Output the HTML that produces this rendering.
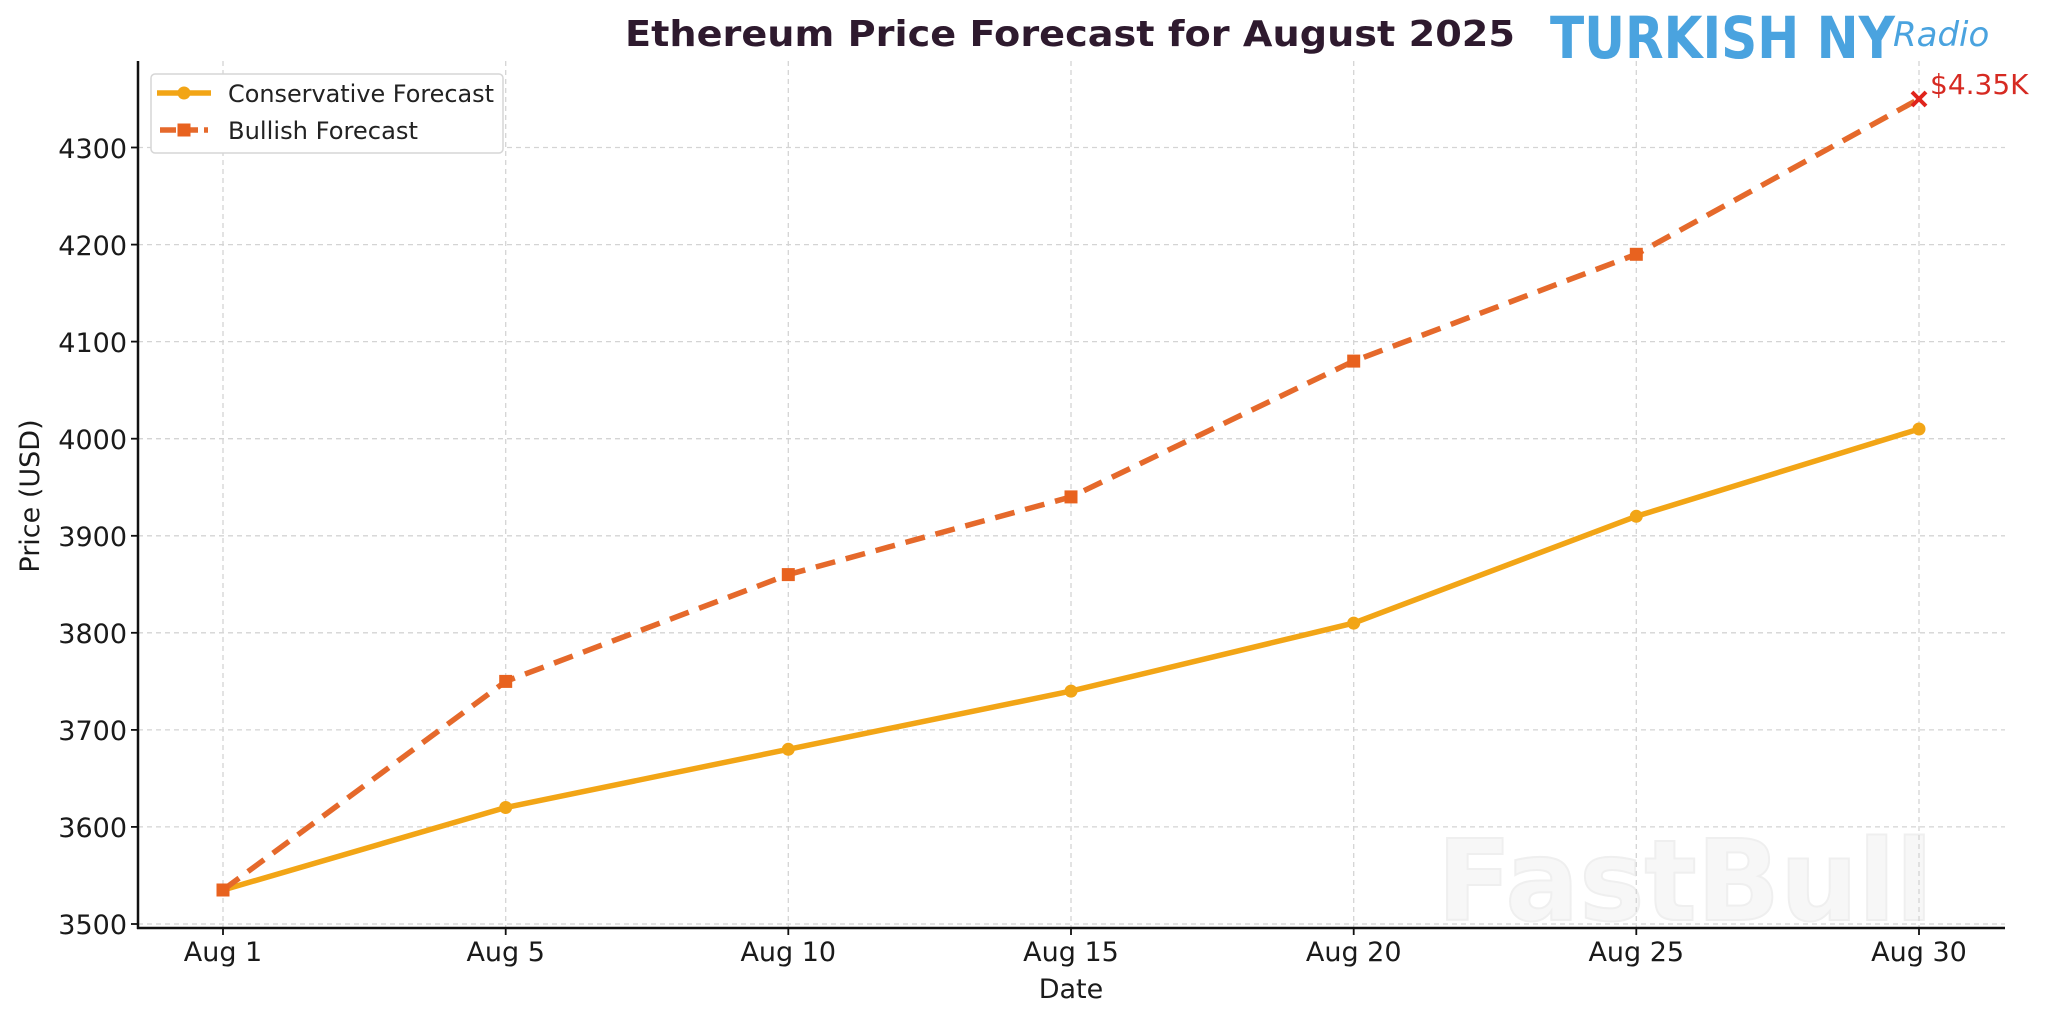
<!DOCTYPE html>
<html><head><meta charset="utf-8"><style>
html,body{margin:0;padding:0;background:#fff;}
svg{display:block;}
text{font-family:"DejaVu Sans","Liberation Sans",sans-serif;}
</style></head><body>
<svg width="2048" height="1021" viewBox="0 0 2048 1021" xmlns="http://www.w3.org/2000/svg">
<rect width="2048" height="1021" fill="#fff"/>
<!-- watermark -->
<text x="1437" y="920" font-size="112" font-weight="bold" fill="#f7f7f7" stroke="#efefef" stroke-width="2" textLength="496" lengthAdjust="spacingAndGlyphs">FastBull</text>
<!-- grid -->
<g stroke="#d4d4d4" stroke-width="1.3" stroke-dasharray="5,4">
<line x1="138" x2="2005" y1="924" y2="924"/>
<line x1="138" x2="2005" y1="826.9" y2="826.9"/>
<line x1="138" x2="2005" y1="729.9" y2="729.9"/>
<line x1="138" x2="2005" y1="632.8" y2="632.8"/>
<line x1="138" x2="2005" y1="535.8" y2="535.8"/>
<line x1="138" x2="2005" y1="438.7" y2="438.7"/>
<line x1="138" x2="2005" y1="341.6" y2="341.6"/>
<line x1="138" x2="2005" y1="244.6" y2="244.6"/>
<line x1="138" x2="2005" y1="147.5" y2="147.5"/>
<line y1="61" y2="928" x1="223" x2="223"/>
<line y1="61" y2="928" x1="505.7" x2="505.7"/>
<line y1="61" y2="928" x1="788.3" x2="788.3"/>
<line y1="61" y2="928" x1="1071" x2="1071"/>
<line y1="61" y2="928" x1="1353.7" x2="1353.7"/>
<line y1="61" y2="928" x1="1636.3" x2="1636.3"/>
<line y1="61" y2="928" x1="1919" x2="1919"/>
</g>
<!-- axes -->
<line x1="138" y1="61" x2="138" y2="929" stroke="#111" stroke-width="2.5"/>
<line x1="137" y1="928" x2="2005" y2="928" stroke="#111" stroke-width="2.5"/>
<g stroke="#111" stroke-width="1.8">
<line x1="131" x2="138" y1="924" y2="924"/><line x1="131" x2="138" y1="826.9" y2="826.9"/>
<line x1="131" x2="138" y1="729.9" y2="729.9"/><line x1="131" x2="138" y1="632.8" y2="632.8"/>
<line x1="131" x2="138" y1="535.8" y2="535.8"/><line x1="131" x2="138" y1="438.7" y2="438.7"/>
<line x1="131" x2="138" y1="341.6" y2="341.6"/><line x1="131" x2="138" y1="244.6" y2="244.6"/>
<line x1="131" x2="138" y1="147.5" y2="147.5"/>
<line y1="928" y2="935" x1="223" x2="223"/><line y1="928" y2="935" x1="505.7" x2="505.7"/>
<line y1="928" y2="935" x1="788.3" x2="788.3"/><line y1="928" y2="935" x1="1071" x2="1071"/>
<line y1="928" y2="935" x1="1353.7" x2="1353.7"/><line y1="928" y2="935" x1="1636.3" x2="1636.3"/>
<line y1="928" y2="935" x1="1919" x2="1919"/>
</g>
<g font-size="27" fill="#1a1a1a" text-anchor="end">
<text x="127" y="934">3500</text><text x="127" y="837">3600</text><text x="127" y="740">3700</text>
<text x="127" y="643">3800</text><text x="127" y="546">3900</text><text x="127" y="449">4000</text>
<text x="127" y="352">4100</text><text x="127" y="255">4200</text><text x="127" y="158">4300</text>
</g>
<g font-size="27" fill="#1a1a1a" text-anchor="middle">
<text x="223" y="961">Aug 1</text><text x="505.7" y="961">Aug 5</text><text x="788.3" y="961">Aug 10</text>
<text x="1071" y="961">Aug 15</text><text x="1353.7" y="961">Aug 20</text><text x="1636.3" y="961">Aug 25</text>
<text x="1919" y="961">Aug 30</text>
</g>
<text x="1071" y="998" font-size="27" fill="#1a1a1a" text-anchor="middle">Date</text>
<text transform="translate(39,496) rotate(-90)" font-size="27" fill="#1a1a1a" text-anchor="middle">Price (USD)</text>
<!-- series -->
<polyline fill="none" stroke="#f2a516" stroke-width="5.5" stroke-linejoin="round" points="223,890 505.7,807.5 788.3,749.3 1071,691.1 1353.7,623.1 1636.3,516.3 1919,429"/>
<g fill="#f2a516">
<circle cx="223" cy="890" r="6.5"/><circle cx="505.7" cy="807.5" r="6.5"/><circle cx="788.3" cy="749.3" r="6.5"/>
<circle cx="1071" cy="691.1" r="6.5"/><circle cx="1353.7" cy="623.1" r="6.5"/><circle cx="1636.3" cy="516.3" r="6.5"/>
<circle cx="1919" cy="429" r="6.5"/>
</g>
<polyline fill="none" stroke="#e5692b" stroke-width="5.5" stroke-dasharray="20,11" points="223,890 505.7,681.4 788.3,574.6 1071,496.9 1353.7,361.1 1636.3,254.3 1919,99"/>
<g fill="#e8621f">
<rect x="216.5" y="883.5" width="13" height="13"/><rect x="499.2" y="674.9" width="13" height="13"/>
<rect x="781.8" y="568.1" width="13" height="13"/><rect x="1064.5" y="490.4" width="13" height="13"/>
<rect x="1347.2" y="354.6" width="13" height="13"/><rect x="1629.8" y="247.8" width="13" height="13"/>
</g>
<g stroke="#e0241c" stroke-width="4"><line x1="1912" y1="92" x2="1926" y2="106"/><line x1="1926" y1="92" x2="1912" y2="106"/></g>
<text x="1930" y="94" font-size="28" fill="#d62a22">$4.35K</text>
<!-- legend -->
<rect x="151" y="74" width="352" height="79" rx="4" fill="#fff" stroke="#d6d6d6" stroke-width="1.5"/>
<line x1="157" y1="93" x2="211" y2="93" stroke="#f2a516" stroke-width="5.5"/>
<circle cx="184" cy="93" r="6.5" fill="#f2a516"/>
<line x1="160" y1="130" x2="208" y2="130" stroke="#e5692b" stroke-width="5.5" stroke-dasharray="16,6"/>
<rect x="177.5" y="123.5" width="13" height="13" fill="#e8621f"/>
<text x="228" y="102" font-size="24" fill="#222" textLength="266" lengthAdjust="spacingAndGlyphs">Conservative Forecast</text>
<text x="228" y="139" font-size="24" fill="#222" textLength="190" lengthAdjust="spacingAndGlyphs">Bullish Forecast</text>
<!-- title -->
<text x="625" y="46" font-size="36" font-weight="bold" fill="#2e1a2e" textLength="890" lengthAdjust="spacingAndGlyphs">Ethereum Price Forecast for August 2025</text>
<!-- logo -->
<text x="1550" y="58" font-size="58" font-weight="bold" fill="#4aa3df" font-family="Liberation Sans" textLength="345" lengthAdjust="spacingAndGlyphs">TURKISH NY</text>
<text x="1893" y="46" font-size="34" font-style="italic" fill="#4aa3df" font-family="Liberation Serif">Radio</text>
</svg>
</body></html>
